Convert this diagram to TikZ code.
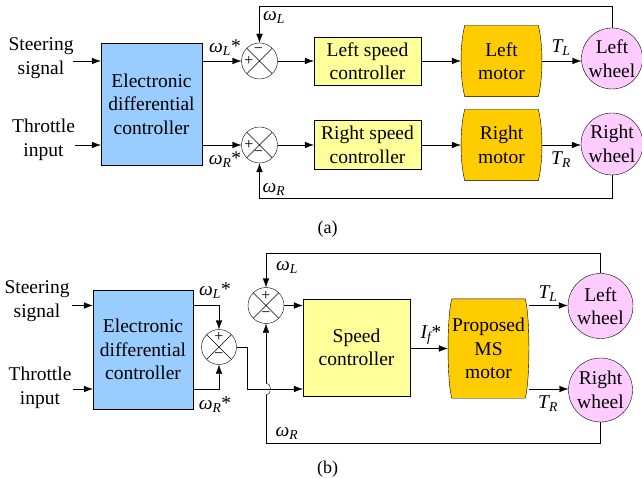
\documentclass[tikz,border=0pt]{standalone}
\usepackage{fontspec}
\setmainfont{Liberation Serif}
\usetikzlibrary{arrows.meta,calc}
\definecolor{edcblue}{HTML}{99CCFF}
\definecolor{scyellow}{HTML}{FFFF99}
\definecolor{motororange}{HTML}{FFCC00}
\definecolor{wheelpink}{HTML}{FFCCFF}
\pgfdeclarelayer{bg}
\pgfsetlayers{bg,main}
\newcommand\motorbg[1]{%
  \begin{pgfonlayer}{bg}
  \draw[fill=motororange] ($(#1.north west)+(4,0)$) -- ($(#1.north east)+(-4,0)$)
    .. controls ($(#1.north east)+(1,18)$) and ($(#1.south east)+(1,-18)$) .. ($(#1.south east)+(-4,0)$)
    -- ($(#1.south west)+(4,0)$)
    .. controls ($(#1.south west)+(-1,-18)$) and ($(#1.north west)+(-1,18)$) .. ($(#1.north west)+(4,0)$) -- cycle;
  \end{pgfonlayer}}
\begin{document}
\begin{tikzpicture}[x=1pt,y=-1pt,line width=1.3pt,
  every node/.style={font=\fontsize{19.5}{23.5}\selectfont, inner sep=0pt, align=center},
  arr/.style={-{Latex[length=9pt,width=6.5pt]}},
  edcbox/.style={draw, fill=edcblue},
  scbox/.style={draw, fill=scyellow},
  motorbox/.style={minimum width=81pt},
  wheel/.style={circle, draw, fill=wheelpink, minimum size=#1},
  sumc/.style={circle, draw, minimum size=36pt, fill=white,
    path picture={\draw (path picture bounding box.north west) -- (path picture bounding box.south east)
      (path picture bounding box.north east) -- (path picture bounding box.south west);}},
  sgn/.style={font=\fontsize{16}{16}\selectfont},
  captext/.style={font=\fontsize{18}{20}\selectfont}]
\useasboundingbox (0,0) rectangle (642,478);
\begin{pgfonlayer}{bg}
\fill[white] (0,0) rectangle (642,478);
\end{pgfonlayer}

% ---------------- (a) ----------------
\node (steerA) at (41,58) {Steering\\signal};
\node (thrA) at (43.5,140) {Throttle\\input};
\node[edcbox, minimum width=101pt, minimum height=122pt] (edcA) at (151.5,104) {Electronic\\differential\\controller};
\node[sumc] (sLa) at (259.5,61) {};
\node[sumc] (sRa) at (259.5,145) {};
\node[sgn] (sLaT) at ($(sLa)+(-1,-10)$) {−};
\node[sgn] (sLaL) at ($(sLa)+(-10.5,0)$) {+};
\node[sgn] (sRaL) at ($(sRa)+(-10.5,-0.5)$) {+};
\node[sgn] (sRaB) at ($(sRa)+(-1,9)$) {−};
\node[scbox, minimum width=107pt, minimum height=48pt] (lscA) at (367.5,61) {Left speed\\controller};
\node[scbox, minimum width=107pt, minimum height=49pt] (rscA) at (367.5,145) {Right speed\\controller};
\node[motorbox, minimum height=71pt] (lmA) at (501.5,61) {Left\\motor};
\node[motorbox, minimum height=71pt] (rmA) at (501.5,145) {Right\\motor};
\motorbg{lmA}
\motorbg{rmA}
\node[wheel=61pt] (wLa) at (612,58.5) {Left\\wheel};
\node[wheel=62pt] (wRa) at (612,144) {Right\\wheel};

\coordinate (stA) at (73,61);
\coordinate (thA) at (75,145);
\coordinate (topA) at (0,6);
\coordinate (botA) at (0,198);
\draw[arr] (stA) -- (stA -| edcA.west);
\draw[arr] (thA) -- (thA -| edcA.west);
\draw[arr] (edcA.east |- sLa) -- (sLa.west);
\draw[arr] (edcA.east |- sRa) -- (sRa.west);
\draw[arr] (sLa.east) -- (lscA.west);
\draw[arr] (sRa.east) -- (rscA.west);
\draw[arr] (lscA.east) -- (lmA.west);
\draw[arr] (rscA.east) -- (rmA.west);
\draw[arr] (lmA.east) -- (lmA.east -| wLa.west);
\draw[arr] (rmA.east) -- (rmA.east -| wRa.west);
\draw[arr] (wLa.north) |- (topA -| sLa) -- (sLa.north);
\draw[arr] (wRa.south) |- (botA -| sRa) -- (sRa.south);

\node (wLsA) at (225,48) {\textit{ω\textsubscript{L}}*};
\node (wRsA) at (225,160) {\textit{ω\textsubscript{R}}*};
\node (wLA) at (274,17) {\textit{ω\textsubscript{L}}};
\node (wRA) at (274,189) {\textit{ω\textsubscript{R}}};
\node (TLA) at (561,48) {\textit{T\textsubscript{L}}};
\node (TRA) at (561,160) {\textit{T\textsubscript{R}}};
\node[captext] (capA) at (327.5,229) {(a)};

% ---------------- (b) ----------------
\node (steerB) at (37,301) {Steering\\signal};
\node (thrB) at (40,388) {Throttle\\input};
\node[edcbox, minimum width=100pt, minimum height=119pt] (edcB) at (143,349.5) {Electronic\\differential\\controller};
\node[sumc, minimum size=35pt] (s1) at (219,347) {};
\node[sumc] (s2) at (266,305.5) {};
\node[sgn] (s1T) at ($(s1)+(0,-10)$) {+};
\node[sgn] (s1B) at ($(s1)+(0,9)$) {−};
\node[sgn] (s2T) at ($(s2)+(0,-10)$) {+};
\node[sgn] (s2B) at ($(s2)+(0,9)$) {−};
\node[scbox, minimum width=107pt, minimum height=97pt] (scB) at (356.5,347.5) {Speed\\controller};
\node[motorbox, minimum height=99pt] (msB) at (488.5,348.5) {Proposed\\MS\\motor};
\motorbg{msB}
\node[wheel=65pt] (wLb) at (600.5,306) {Left\\wheel};
\node[wheel=64pt] (wRb) at (600.5,390) {Right\\wheel};

\coordinate (stB) at (72,305.5);
\coordinate (thB) at (73,389);
\coordinate (topB) at (0,253);
\coordinate (botB) at (0,443);
\coordinate (hop) at (s2 |- thB);
\coordinate (hopLo) at ($(hop)+(0,6)$);
\coordinate (hopHi) at ($(hop)+(0,-6)$);
\draw[arr] (stB) -- (stB -| edcB.west);
\draw[arr] (thB) -- (thB -| edcB.west);
\draw[arr] (edcB.east |- stB) -| (s1.north);
\draw[arr] (edcB.east |- thB) -| (s1.south);
\draw[arr] (s1.east) -- ++(10,0) |- (scB.west |- thB);
\draw[arr] (s2.east) -- (scB.west |- s2);
\draw[arr] (scB.east |- msB) -- (msB.west);
\draw[arr] (msB.east |- s2) -- (s2 -| wLb.west);
\draw[arr] (msB.east |- thB) -- (thB -| wRb.west);
\draw[arr] (wLb.north) |- (topB -| s2) -- (s2.north);
\draw (wRb.south) |- (botB -| s2) -- (hopLo);
\draw (hopLo) .. controls ($(hopLo)+(6,0)$) and ($(hopHi)+(6,0)$) .. (hopHi);
\draw[arr] (hopHi) -- (s2.south);

\node (wLsB) at (215,291) {\textit{ω\textsubscript{L}}*};
\node (wRsB) at (215,405) {\textit{ω\textsubscript{R}}*};
\node (wLB) at (287,267) {\textit{ω\textsubscript{L}}};
\node (wRB) at (287,433) {\textit{ω\textsubscript{R}}};
\node (IfB) at (431,335) {\textit{I\textsubscript{f}}*};
\node (TLB) at (548,294) {\textit{T\textsubscript{L}}};
\node (TRB) at (548,404) {\textit{T\textsubscript{R}}};
\node[captext] (capB) at (327.5,469) {(b)};
\end{tikzpicture}
\end{document}
